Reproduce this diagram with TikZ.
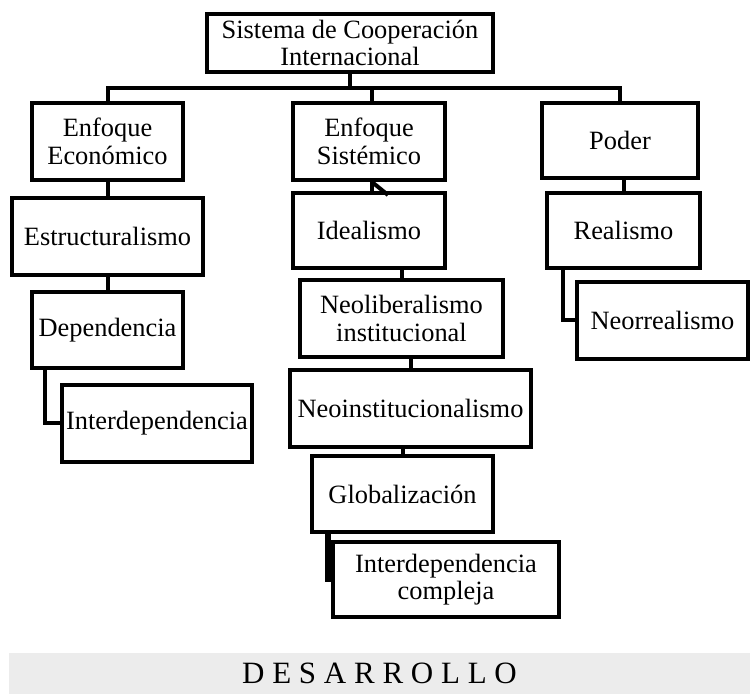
\documentclass[tikz,border=0pt]{standalone}
\usepackage{fontspec}
\setmainfont{Liberation Serif}
\usetikzlibrary{positioning, calc}

\begin{document}
\begin{tikzpicture}[x=0.5pt, y=-0.5pt,
  block/.style 2 args={rectangle, draw, line width=2pt, inner sep=0pt, align=center,
    minimum width=#1*0.5pt, minimum height=#2*0.5pt,
    font=\fontsize{13.2}{13.8}\selectfont},
  link/.style={draw, line width=2pt},
  band/.style={rectangle, fill=gray!15, inner sep=0pt, minimum width=370.5pt,
    minimum height=20.5pt, font=\fontsize{15.5}{16}\selectfont}
]
\useasboundingbox (0,0) rectangle (750,694);

\node[block={286}{58}] (sci) at (350,43) {Sistema de Cooperación\\Internacional};

\node[block={151}{77}] (econ)  at (107.5,141.5) {Enfoque\\Económico};
\node[block={191}{77}] (estr)  at (107.5,236.5) {Estructuralismo};
\node[block={151}{76}] (dep)   at (107.5,330)   {Dependencia};
\node[block={190}{77}] (inter) at (157,423.5)   {Interdependencia};

\node[block={152}{77}] (sist)    at (369,141.5)   {Enfoque\\Sistémico};
\node[block={152}{75}] (ideal)   at (369,230.5)   {Idealismo};
\node[block={203}{77}] (neolib)  at (401.5,318.5) {Neoliberalismo\\institucional};
\node[block={241}{77}] (neoinst) at (410.5,408.5) {Neoinstitucionalismo};
\node[block={181}{76}] (glob)    at (402.5,494)   {Globalización};
\node[block={226}{75}] (intcomp) at (446,579.5)   {Interdependencia\\compleja};

\node[block={156}{75}] (poder) at (620,140.5) {Poder};
\node[block={153}{75}] (real)  at (623.5,230.5) {Realismo};
\node[block={171}{77}] (neorr) at (662.5,320.5) {Neorrealismo};

\node[band] (des) at (379.5,673.5) {D E S A R R O L L O};

\coordinate (bus) at (350,88);
\draw[link] (sci.south) -- (bus);
\draw[link] (econ.north) |- (bus) -| (poder.north);
\draw[link] ([xshift=1.5pt]sist.north) -- ([xshift=1.5pt]sist.north |- bus);

\draw[link] (econ) -- (estr);
\draw[link] (estr) -- (dep);
\draw[link] ([xshift=7.5pt]dep.south west) |- (inter.west);

\draw[link] ([xshift=1.5pt]sist.south) -- ([xshift=1.5pt]ideal.north);
\draw[link] ([xshift=1.5pt]sist.south) -- ++(16,13);
\draw[link] (ideal.south -| neolib.north) -- (neolib.north);
\draw[link] (neolib.south -| neoinst.north) -- (neoinst.north);
\draw[link] (neoinst.south -| glob.north) -- (glob.north);
\draw[link, line width=3pt] ([xshift=9pt]glob.south west) |- (intcomp.west);

\draw[link] (poder.south -| real.north) -- (real.north);
\draw[link] ([xshift=9pt]real.south west) |- (neorr.west);
\end{tikzpicture}
\end{document}
